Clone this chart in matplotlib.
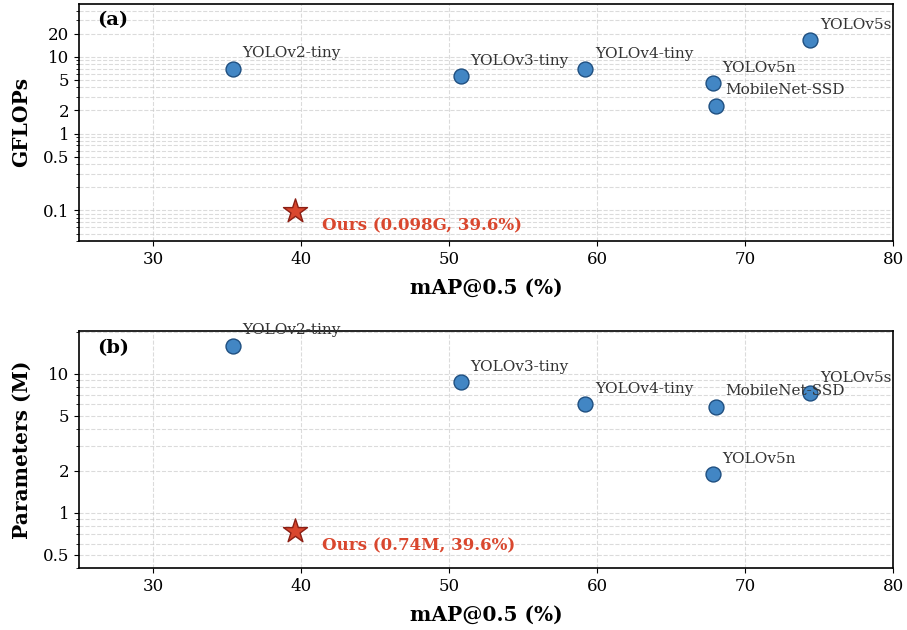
import numpy as np
import matplotlib.pyplot as plt

plt.rcParams['font.family'] = 'DejaVu Serif'

# data
models = ['YOLOv2-tiny', 'YOLOv3-tiny', 'YOLOv4-tiny', 'YOLOv5n', 'MobileNet-SSD', 'YOLOv5s']
map50 = [35.4, 50.8, 59.2, 67.8, 68.0, 74.4]
gflops = [7.0, 5.6, 6.9, 4.5, 2.3, 16.5]
params = [15.9, 8.7, 6.0, 1.9, 5.8, 7.2]

ours_map = 39.6
ours_gflops = 0.098
ours_params = 0.74

fig, axes = plt.subplots(2, 1, figsize=(9.07, 6.3), dpi=100)
fig.subplots_adjust(left=0.087, right=0.985, top=0.994, bottom=0.098, hspace=0.38)

panels = [
    (axes[0], gflops, ours_gflops, 'GFLOPs', '(a)', 'Ours (0.098G, 39.6%)',
     (0.04, 49), [0.1, 0.5, 1, 2, 5, 10, 20]),
    (axes[1], params, ours_params, 'Parameters (M)', '(b)', 'Ours (0.74M, 39.6%)',
     (0.4, 20.2), [0.5, 1, 2, 5, 10]),
]

for ax, vals, ours_val, ylabel, tag, ours_txt, ylim, yticks in panels:
    ax.scatter(map50, vals, s=115, color='#4286c4', edgecolor='#1f4f80',
               linewidth=1.0, zorder=3)
    for name, x, y in zip(models, map50, vals):
        ax.annotate(name, (x, y), xytext=(7, 6), textcoords='offset points',
                    fontsize=11, color='#333333', va='bottom')
    ax.scatter([ours_map], [ours_val], marker='*', s=330, color='#d9472e',
               edgecolor='#8c1f14', linewidth=1.0, zorder=4)
    ax.annotate(ours_txt, (ours_map, ours_val), xytext=(19, -11),
                textcoords='offset points', fontsize=12, fontweight='bold',
                color='#d9472e', va='center')

    ax.set_yscale('log')
    ax.set_xlim(25, 80)
    ax.set_ylim(*ylim)
    ax.set_yticks(yticks)
    ax.set_yticklabels([f'{t:g}' for t in yticks])
    ax.tick_params(labelsize=12)
    ax.set_xlabel('mAP@0.5 (%)', fontsize=14.5, fontweight='bold', labelpad=7)
    ax.set_ylabel(ylabel, fontsize=14.5, fontweight='bold', labelpad=8)
    ax.text(0.022, 0.93, tag, transform=ax.transAxes, fontsize=14,
            fontweight='bold', va='center')
    ax.grid(True, which='both', linestyle='--', color='#c8c8c8', alpha=0.65)
    for sp in ax.spines.values():
        sp.set_linewidth(1.2)

plt.savefig('out.png', dpi=100)
